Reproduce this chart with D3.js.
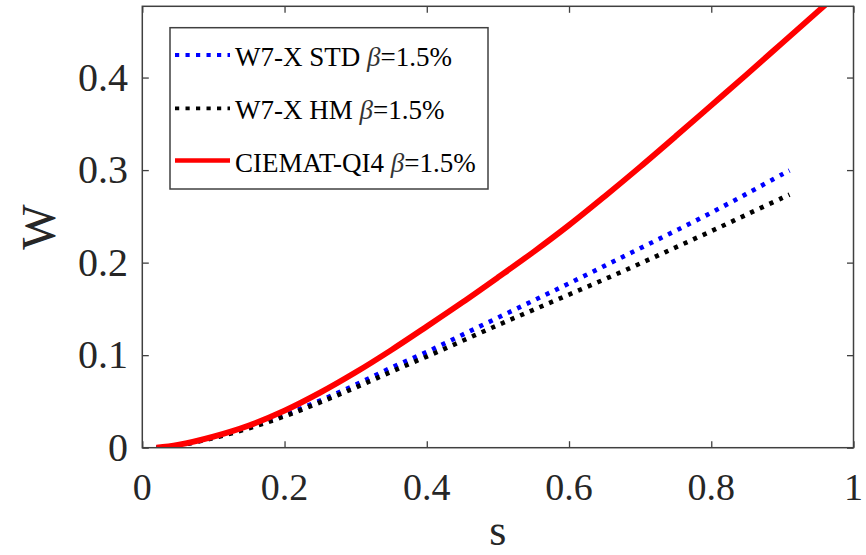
<!DOCTYPE html>
<html>
<head>
<meta charset="utf-8">
<script src="https://cdn.jsdelivr.net/npm/d3@7"></script>
<style>
  html, body { margin: 0; padding: 0; background: #fff; }
  svg { display: block; }
  text { font-family: "Liberation Serif", "Times New Roman", serif; }
</style>
</head>
<body>
<svg id="chart" width="866" height="555"></svg>
<script>
// Normalised radius s and the W profile for each configuration
const sStd = [0.02, 0.05, 0.1, 0.15, 0.2, 0.25, 0.3, 0.35, 0.4, 0.45, 0.5, 0.55, 0.6, 0.65, 0.7, 0.75, 0.8, 0.85, 0.9, 0.91];
const wStd = [0, 0.0025, 0.011, 0.022, 0.0355, 0.051, 0.068, 0.0865, 0.1035, 0.122, 0.1405, 0.159, 0.1775, 0.1965, 0.2155, 0.2345, 0.254, 0.2745, 0.2955, 0.2995];

const sHm = [0.02, 0.05, 0.1, 0.15, 0.2, 0.25, 0.3, 0.35, 0.4, 0.45, 0.5, 0.55, 0.6, 0.65, 0.7, 0.75, 0.8, 0.85, 0.9, 0.91];
const wHm = [0, 0.0023, 0.0105, 0.021, 0.034, 0.049, 0.065, 0.082, 0.0985, 0.1155, 0.1325, 0.149, 0.1655, 0.182, 0.199, 0.2165, 0.234, 0.252, 0.270, 0.2735];

const sQi4 = [0.02, 0.05, 0.1, 0.15, 0.2, 0.25, 0.3, 0.35, 0.4, 0.45, 0.5, 0.55, 0.6, 0.65, 0.7, 0.75, 0.8, 0.85, 0.9, 0.95, 1.0];
const wQi4 = [0, 0.003, 0.012, 0.024, 0.040, 0.0595, 0.0815, 0.1055, 0.131, 0.157, 0.184, 0.2115, 0.2405, 0.2715, 0.3035, 0.3365, 0.370, 0.4035, 0.4375, 0.4715, 0.5055];

const seriesNames = ["W7-X STD", "W7-X HM", "CIEMAT-QI4"];
const betaLabel = "=1.5%";
const xTicks = [0, 0.2, 0.4, 0.6, 0.8, 1];
const yTicks = [0, 0.1, 0.2, 0.3, 0.4];
const xDomain = [0, 1];
const yDomain = [0, 0.477];

const svg = d3.select("#chart");
const plotLeft = 142.3, plotRight = 853.5, plotTop = 6.3, plotBottom = 447.7;

const x = d3.scaleLinear().domain(xDomain).range([plotLeft, plotRight]);
const y = d3.scaleLinear().domain(yDomain).range([plotBottom, plotTop]);

const axisColor = "#404040";
const labelColor = "#262626";

svg.append("defs").append("clipPath").attr("id", "plotClip")
  .append("rect").attr("x", plotLeft).attr("y", plotTop)
  .attr("width", plotRight - plotLeft).attr("height", plotBottom - plotTop);

const series = [
  { name: seriesNames[0], s: sStd, w: wStd, color: "#0000ff", dash: "4.2,6.3", width: 4.6 },
  { name: seriesNames[1], s: sHm, w: wHm, color: "#000000", dash: "4.2,6.3", width: 4.6 },
  { name: seriesNames[2], s: sQi4, w: wQi4, color: "#ff0000", dash: null, width: 5.8 }
];

const line = d3.line()
  .x(d => x(d[0]))
  .y(d => y(d[1]))
  .curve(d3.curveCatmullRom.alpha(0.5));

const plot = svg.append("g").attr("clip-path", "url(#plotClip)");
series.forEach(sr => {
  plot.append("path")
    .datum(sr.s.map((v, i) => [v, sr.w[i]]))
    .attr("d", line)
    .attr("fill", "none")
    .attr("stroke", sr.color)
    .attr("stroke-width", sr.width)
    .attr("stroke-dasharray", sr.dash)
    .attr("stroke-linecap", "butt");
});

// Axes with inward ticks, mirrored on top and right (box on)
const tickLen = 6.5;

svg.append("g").attr("transform", `translate(0,${plotBottom})`)
  .call(d3.axisBottom(x).tickValues(xTicks).tickSize(-tickLen).tickFormat(""));
svg.append("g").attr("transform", `translate(0,${plotTop})`)
  .call(d3.axisTop(x).tickValues(xTicks).tickSize(-tickLen).tickFormat(""));
svg.append("g").attr("transform", `translate(${plotLeft},0)`)
  .call(d3.axisLeft(y).tickValues(yTicks).tickSize(-tickLen).tickFormat(""));
svg.append("g").attr("transform", `translate(${plotRight},0)`)
  .call(d3.axisRight(y).tickValues(yTicks).tickSize(-tickLen).tickFormat(""));

svg.selectAll(".domain").remove();
svg.selectAll(".tick line").attr("stroke", axisColor).attr("stroke-width", 1.3);

// Plot frame
svg.append("rect")
  .attr("x", plotLeft).attr("y", plotTop)
  .attr("width", plotRight - plotLeft).attr("height", plotBottom - plotTop)
  .attr("fill", "none").attr("stroke", axisColor).attr("stroke-width", 1.5);

// Tick labels
svg.append("g").selectAll("text").data(xTicks).join("text")
  .attr("x", d => x(d)).attr("y", 500)
  .attr("text-anchor", "middle")
  .attr("font-size", 38).attr("fill", labelColor)
  .text(d => d3.format("")(d));

svg.append("g").selectAll("text").data(yTicks).join("text")
  .attr("x", 128).attr("y", d => y(d) + 13)
  .attr("text-anchor", "end")
  .attr("font-size", 40).attr("fill", labelColor)
  .text(d => d3.format("")(d));

// Axis titles
svg.append("text")
  .attr("x", (plotLeft + plotRight) / 2).attr("y", 545)
  .attr("text-anchor", "middle").attr("font-size", 44).attr("fill", labelColor)
  .text("s");
svg.append("text")
  .attr("transform", `translate(55,${(plotTop + plotBottom) / 2}) rotate(-90)`)
  .attr("text-anchor", "middle").attr("font-size", 48).attr("fill", labelColor)
  .text("W");

// Legend
const legend = svg.append("g");
legend.append("rect")
  .attr("x", 170).attr("y", 27.7).attr("width", 318).attr("height", 161.3)
  .attr("fill", "#fff").attr("stroke", axisColor).attr("stroke-width", 1.5);

const rowY = [55, 108.3, 160.5];
series.forEach((sr, i) => {
  legend.append("line")
    .attr("x1", 175).attr("x2", 230)
    .attr("y1", rowY[i]).attr("y2", rowY[i])
    .attr("stroke", sr.color)
    .attr("stroke-width", sr.dash ? 3.8 : 4.5)
    .attr("stroke-dasharray", sr.dash);
  const t = legend.append("text")
    .attr("x", 235).attr("y", rowY[i] + 11)
    .attr("font-size", 27).attr("fill", "#000");
  t.append("tspan").text(sr.name + " ");
  t.append("tspan").attr("font-style", "italic").attr("fill", "#333").text("β");
  t.append("tspan").text(betaLabel);
});
</script>
</body>
</html>
